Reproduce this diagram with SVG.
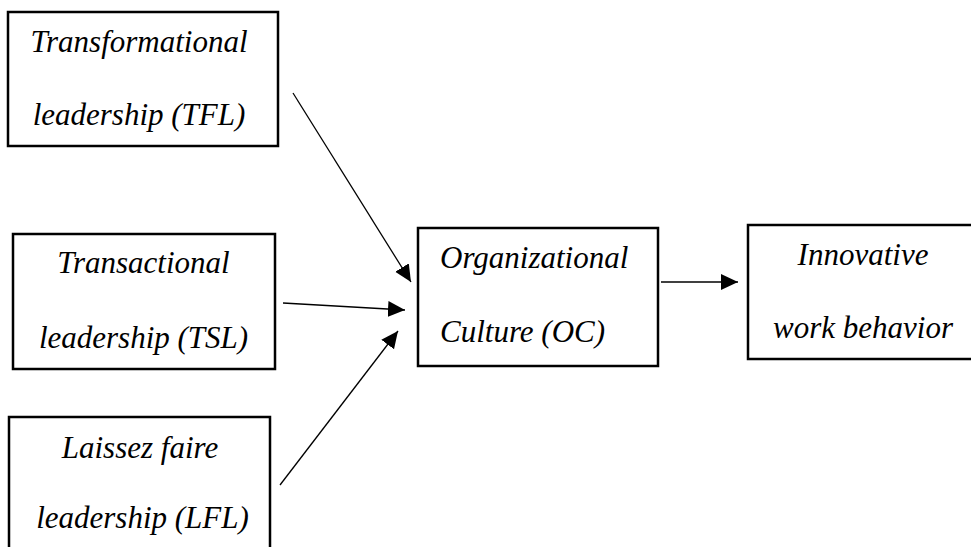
<svg xmlns="http://www.w3.org/2000/svg" width="971" height="547" viewBox="0 0 971 547">
<style>
.box{fill:#fff;stroke:#000;stroke-width:2.5}
.t{font-family:"Liberation Serif","Times New Roman",serif;font-style:italic;font-size:31px;fill:#000}
.c{text-anchor:middle}
.ln{stroke:#000;stroke-width:1.3;fill:none;marker-end:url(#ah)}
</style>
<defs>
<marker id="ah" markerUnits="userSpaceOnUse" markerWidth="19" markerHeight="17" refX="17" refY="8" orient="auto">
<path d="M0,0 L17,8 L0,16 z" fill="#000"/>
</marker>
</defs>
<rect width="971" height="547" fill="#fff"/>
<g id="connectors">
<line class="ln" x1="293" y1="93" x2="411" y2="282"/>
<line class="ln" x1="283" y1="303" x2="405" y2="310"/>
<line class="ln" x1="280" y1="485" x2="398" y2="331"/>
<line class="ln" x1="661" y1="282" x2="738" y2="282"/>
</g>
<g id="tfl">
<rect class="box" x="8" y="12" width="270" height="134"/>
<text class="t c" x="139" y="52">Transformational</text>
<text class="t c" x="139" y="125">leadership (TFL)</text>
</g>
<g id="tsl">
<rect class="box" x="13" y="234" width="262" height="135"/>
<text class="t c" x="143.5" y="273">Transactional</text>
<text class="t c" x="143.5" y="348">leadership (TSL)</text>
</g>
<g id="lfl">
<rect class="box" x="9" y="417" width="261" height="140"/>
<text class="t c" x="140" y="458">Laissez faire</text>
<text class="t c" x="142.5" y="528">leadership (LFL)</text>
</g>
<g id="oc">
<rect class="box" x="418" y="228" width="240" height="138"/>
<text class="t" x="440" y="268">Organizational</text>
<text class="t" x="440" y="342">Culture (OC)</text>
</g>
<g id="iwb">
<rect class="box" x="748" y="225" width="230" height="134"/>
<text class="t c" x="863" y="265">Innovative</text>
<text class="t c" x="863" y="338">work behavior</text>
</g>
</svg>
